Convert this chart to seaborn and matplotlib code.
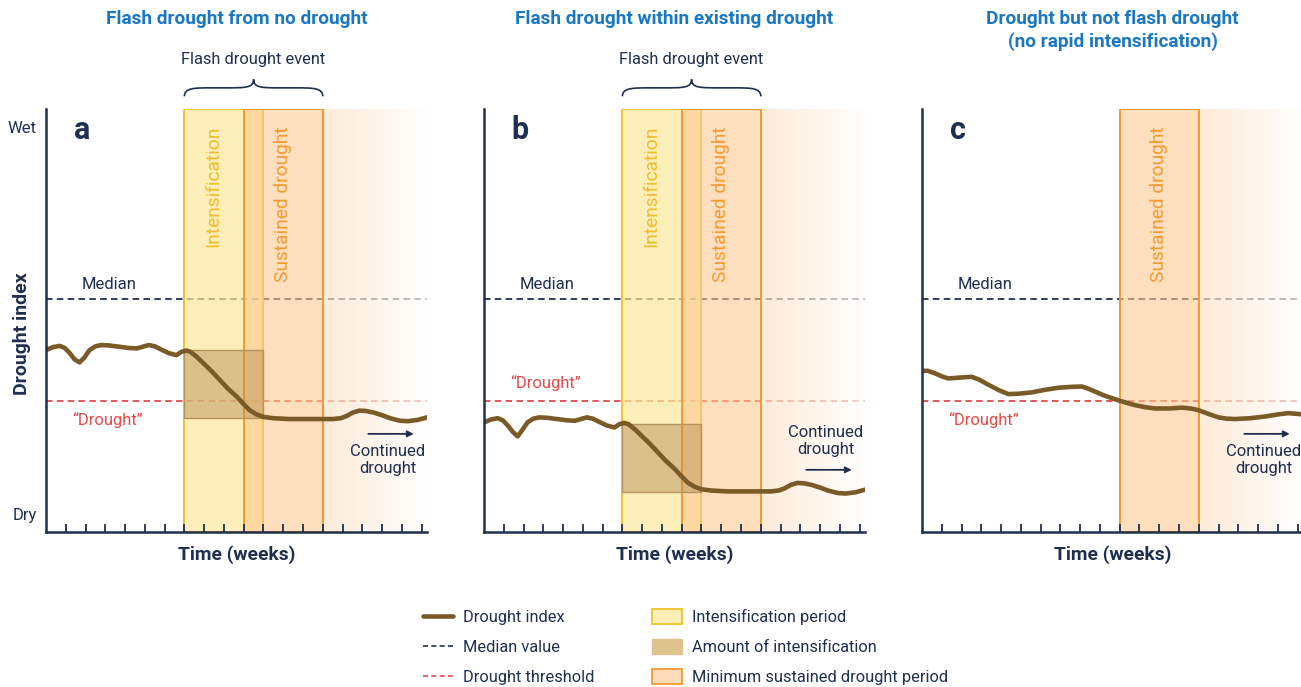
import matplotlib
matplotlib.use('Agg')
import matplotlib.pyplot as plt
import numpy as np
import pandas as pd
import seaborn as sns
from matplotlib.patches import Rectangle, Patch, PathPatch
from matplotlib.lines import Line2D
from matplotlib.path import Path
import matplotlib.transforms as mtransforms

sns.set_style('white')
plt.rcParams['font.family'] = ['Roboto', 'DejaVu Sans']

# ---- data (x in weeks, y in 0..100 drought index units) ----
weeks_ab = [0.0, 0.35, 0.7, 0.95, 1.2, 1.45, 1.7, 1.95, 2.2, 2.5, 2.8, 3.2, 3.7, 4.2,
            4.6, 4.9, 5.2, 5.5, 5.8, 6.2, 6.6, 6.85, 7.1, 7.3, 7.6, 7.96, 8.4, 8.8,
            9.2, 9.65, 10.0, 10.3, 10.65, 11.0, 11.5, 12.3, 14.5, 14.9, 15.2, 15.5,
            15.85, 16.2, 16.6, 17.0, 17.4, 17.9, 18.3, 18.8, 19.27]
index_a = [43.0, 43.7, 44.0, 43.5, 42.3, 40.8, 40.1, 41.3, 43.0, 43.9, 44.2, 44.1,
           43.8, 43.5, 43.4, 43.8, 44.2, 43.9, 43.2, 42.3, 41.8, 42.6, 42.9, 42.6,
           41.5, 39.9, 37.9, 35.9, 33.9, 32.0, 30.2, 28.8, 27.8, 27.2, 26.9, 26.7,
           26.7, 26.9, 27.4, 28.2, 28.7, 28.6, 28.2, 27.6, 26.9, 26.3, 26.2, 26.5,
           27.1]
index_b = [25.9, 26.6, 26.9, 26.4, 25.2, 23.7, 22.6, 24.2, 25.9, 26.8, 27.1, 27.0,
           26.7, 26.4, 26.3, 26.7, 27.1, 26.8, 26.1, 25.2, 24.7, 25.5, 25.8, 25.5,
           24.4, 22.8, 20.8, 18.8, 16.8, 14.9, 13.1, 11.7, 10.7, 10.1, 9.8, 9.6,
           9.6, 9.8, 10.3, 11.1, 11.6, 11.5, 11.1, 10.5, 9.8, 9.2, 9.1, 9.4, 10.0]
weeks_c = [0.0, 0.3, 0.66, 1.0, 1.33, 1.9, 2.51, 2.9, 3.36, 3.9, 4.37, 4.9, 5.55,
           6.2, 6.9, 7.5, 8.08, 8.4, 8.75, 9.2, 9.76, 10.3, 10.77, 11.3, 11.79, 12.5,
           13.14, 13.6, 13.98, 14.5, 14.99, 15.4, 15.83, 16.6, 17.35, 18.0, 18.53,
           19.27]
index_c = [38.1, 38.1, 37.5, 36.8, 36.3, 36.5, 36.7, 36.0, 34.8, 33.5, 32.6, 32.7,
           33.0, 33.6, 34.1, 34.3, 34.4, 33.9, 33.2, 32.3, 31.4, 30.6, 30.0, 29.5,
           29.2, 29.2, 29.4, 29.2, 28.8, 27.9, 27.1, 26.8, 26.7, 26.9, 27.3, 27.8,
           28.1, 27.8]

panel_letters = ['a', 'b', 'c']
titles = ['Flash drought from no drought',
          'Flash drought within existing drought',
          'Drought but not flash drought\n(no rapid intensification)']
intens_weeks = [(7, 11), (7, 11), None]
sustained_weeks = [(10, 14), (10, 14), (10, 14)]
box_levels = [(27.0, 43.0), (9.4, 25.6), None]
median_level = 55
threshold_level = 31
drought_label_y = [26.5, 35.2, 26.5]
continued_text_y = [17.0, 21.5, 17.0]
continued_arrow_y = [23.2, 14.7, 23.2]
tick_weeks = list(range(1, 20))
xmax = 19.27

NAVY = '#1e2f4f'
RED = '#e34a4a'
BROWN = '#7a5b28'
BLUE = '#1a77c0'
YEL_EDGE = '#f1c22c'
ORA_EDGE = '#f39a30'
YEL_FILL = (252/255, 231/255, 154/255, 0.7)
ORA_FILL = (252/255, 200/255, 145/255, 0.6)
BOX_FILL = (180/255, 140/255, 80/255, 0.45)

fig = plt.figure(figsize=(13.01, 6.87), dpi=100)
lefts = [46/1301, 484/1301, 922/1301]
ax_w = 381/1301
ax_b = (687-532)/687
ax_h = 423/687

series = [(weeks_ab, index_a), (weeks_ab, index_b), (weeks_c, index_c)]

for i, left in enumerate(lefts):
    ax = fig.add_axes([left, ax_b, ax_w, ax_h])
    ax.set_facecolor('none')

    ax.axhline(median_level, color=NAVY, lw=1.3, dashes=(3.6, 2.4), zorder=1)
    ax.axhline(threshold_level, color=RED, lw=1.3, dashes=(3.6, 2.4), zorder=1)

    if intens_weeks[i] is not None:
        x0, x1 = intens_weeks[i]
        ax.axvspan(x0, x1, facecolor=YEL_FILL, edgecolor=YEL_EDGE, lw=1.4, zorder=2)
    s0, s1 = sustained_weeks[i]
    ax.axvspan(s0, s1, facecolor=ORA_FILL, edgecolor=ORA_EDGE, lw=1.4, zorder=3)

    # fading tail after the sustained period
    n = 256
    grad = np.zeros((1, n, 4))
    fade = np.linspace(0, 1, n)
    grad[0, :, 0] = (253 + 2*fade)/255
    grad[0, :, 1] = (226 + 29*fade)/255
    grad[0, :, 2] = (198 + 57*fade)/255
    grad[0, :, 3] = 0.68
    ax.imshow(grad, extent=[s1, xmax, 0, 100], aspect='auto', zorder=2,
              interpolation='bilinear')

    if box_levels[i] is not None:
        y0, y1 = box_levels[i]
        bx0, bx1 = intens_weeks[i]
        ax.add_patch(Rectangle((bx0, y0), bx1-bx0, y1-y0, facecolor=BOX_FILL,
                               edgecolor='#b5935e', lw=1.0, zorder=4))

    wk, val = series[i]
    df = pd.DataFrame({'week': wk, 'index': val})
    sns.lineplot(data=df, x='week', y='index', ax=ax, color=BROWN, lw=3.3,
                 zorder=5, solid_capstyle='round', solid_joinstyle='round')

    ax.set_xlim(0, xmax)
    ax.set_ylim(0, 100)
    ax.set_xticks(tick_weeks)
    ax.set_yticks([])
    ax.tick_params(axis='x', direction='in', length=6, width=1.3, color=NAVY,
                   labelbottom=False, bottom=True)
    ax.xaxis.set_zorder(6)
    for sp in ['top', 'right']:
        ax.spines[sp].set_visible(False)
    for sp in ['left', 'bottom']:
        ax.spines[sp].set_color(NAVY)
        ax.spines[sp].set_linewidth(1.8)
        ax.spines[sp].set_zorder(6)
    ax.set_xlabel('')
    ax.set_ylabel('')

    # texts
    ax.text(0.5, -0.054, 'Time (weeks)', transform=ax.transAxes, ha='center',
            va='center', fontsize=13.9, fontweight='bold', color=NAVY)
    ax.text(0.5, 1.234, titles[i], transform=ax.transAxes, ha='center', va='top',
            fontsize=13.7, fontweight='bold', color=BLUE, linespacing=1.25)
    ax.text(1.4, 95, panel_letters[i], ha='left', va='center', fontsize=22,
            fontweight='bold', color=NAVY, zorder=7)
    ax.text(3.2, 58.6, 'Median', ha='center', va='center', fontsize=12,
            color=NAVY, zorder=7)
    ax.text(3.1, drought_label_y[i], '\u201cDrought\u201d', ha='center',
            va='center', fontsize=12, color=RED, zorder=7)
    ax.text(17.3, continued_text_y[i], 'Continued\ndrought', ha='center',
            va='center', fontsize=12, color=NAVY, linespacing=1.2, zorder=7)
    ax.annotate('', xy=(18.6, continued_arrow_y[i]), xytext=(16.3, continued_arrow_y[i]),
                arrowprops=dict(arrowstyle='-|>', color=NAVY, lw=1.3,
                                mutation_scale=9, shrinkA=0, shrinkB=0), zorder=7)
    if intens_weeks[i] is not None:
        ax.text(8.45, 96, 'Intensification', rotation=90, ha='center', va='top',
                fontsize=13.8, color='#efbd2a', zorder=7)
    ax.text(12.0, 96, 'Sustained drought', rotation=90, ha='center', va='top',
            fontsize=13.8, color=ORA_EDGE, zorder=7)

    if intens_weeks[i] is not None:
        # curly brace over the flash drought event
        bx0 = intens_weeks[i][0]
        bx1 = sustained_weeks[i][1]
        xc = (bx0 + bx1)/2
        yb, ym, yt = 1.030, 1.050, 1.070
        verts = [(bx0, yb), (bx0, ym), (bx0+0.5, ym), (bx0+1.4, ym),
                 (xc-1.4, ym),
                 (xc-0.4, ym), (xc, ym), (xc, yt),
                 (xc, ym), (xc+0.4, ym), (xc+1.4, ym),
                 (bx1-1.4, ym),
                 (bx1-0.5, ym), (bx1, ym), (bx1, yb)]
        codes = [Path.MOVETO, Path.CURVE4, Path.CURVE4, Path.CURVE4,
                 Path.LINETO,
                 Path.CURVE4, Path.CURVE4, Path.CURVE4,
                 Path.CURVE4, Path.CURVE4, Path.CURVE4,
                 Path.LINETO,
                 Path.CURVE4, Path.CURVE4, Path.CURVE4]
        trans = mtransforms.blended_transform_factory(ax.transData, ax.transAxes)
        ax.add_patch(PathPatch(Path(verts, codes), facecolor='none', edgecolor=NAVY,
                               lw=1.2, transform=trans, clip_on=False))
        ax.text(xc, 1.118, 'Flash drought event', transform=trans, ha='center',
                va='center', fontsize=11.8, color=NAVY)

    if i == 0:
        ax.text(-0.024, 95.5, 'Wet', transform=ax.get_yaxis_transform(), ha='right',
                va='center', fontsize=12, color=NAVY)
        ax.text(-0.024, 4, 'Dry', transform=ax.get_yaxis_transform(), ha='right',
                va='center', fontsize=12, color=NAVY)
        ax.text(-0.063, 0.47, 'Drought index', transform=ax.transAxes, rotation=90,
                ha='center', va='center', fontsize=14, fontweight='bold', color=NAVY)

handles = [
    Line2D([], [], color=BROWN, lw=3.3),
    Line2D([], [], color=NAVY, lw=1.2, dashes=(3.0, 2.0)),
    Line2D([], [], color=RED, lw=1.2, dashes=(3.0, 2.0)),
    Patch(facecolor='#fdeeb6', edgecolor=YEL_EDGE, lw=1.3),
    Patch(facecolor='#dec38e', edgecolor='#dec38e', lw=1.0),
    Patch(facecolor='#fddcb9', edgecolor=ORA_EDGE, lw=1.3),
]
labels = ['Drought index', 'Median value', 'Drought threshold',
          'Intensification period', 'Amount of intensification',
          'Minimum sustained drought period']
leg = fig.legend(handles, labels, loc='center', bbox_to_anchor=(0.527, 0.058),
                 ncol=2, frameon=False, fontsize=11.8, handlelength=1.85,
                 handleheight=1.05, handletextpad=0.6, labelspacing=0.85,
                 columnspacing=3.5)
for t in leg.get_texts():
    t.set_color(NAVY)

fig.savefig('out.png', dpi=100)
